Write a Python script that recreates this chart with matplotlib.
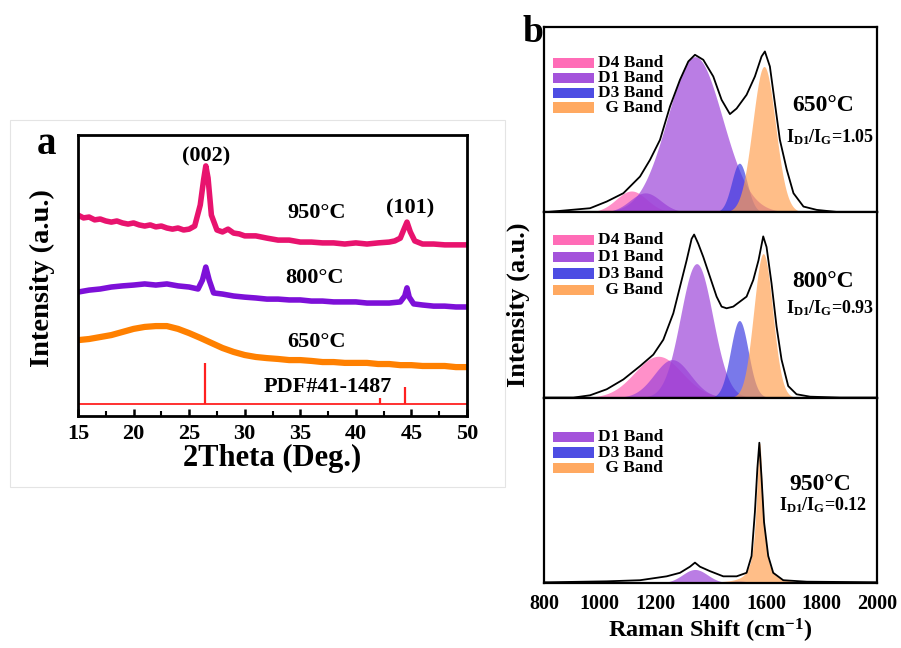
import numpy as np
import matplotlib
matplotlib.use("Agg")
import matplotlib.pyplot as plt
from matplotlib.patches import Rectangle
from matplotlib.ticker import MultipleLocator

plt.rcParams['font.family'] = ['Liberation Serif', 'DejaVu Serif']
plt.rcParams['font.weight'] = 'bold'
plt.rcParams['mathtext.fontset'] = 'custom'
plt.rcParams['mathtext.rm'] = 'Liberation Serif:bold'
plt.rcParams['mathtext.it'] = 'Liberation Serif:bold'
plt.rcParams['mathtext.bf'] = 'Liberation Serif:bold'

# ---------------- Panel a: XRD data ----------------
xrd_950_x = [15, 15.5, 16, 16.5, 17, 17.5, 18, 18.5, 19, 19.5, 20, 20.5, 21, 21.5, 22, 22.5,
             23, 23.5, 24, 24.5, 25, 25.5, 26, 26.3, 26.5, 26.7, 27, 27.5, 28, 28.5, 29, 29.5,
             30, 31, 32, 33, 34, 35, 36, 37, 38, 39, 40, 41, 42, 43, 43.5, 44, 44.3, 44.6,
             44.9, 45.3, 46, 47, 48, 49, 50]
xrd_950_y = [71.5, 70.5, 70.8, 69.8, 70.1, 69.4, 69.0, 69.4, 68.7, 68.3, 68.7, 68.0, 67.6, 68.0,
             67.3, 67.6, 66.9, 66.5, 66.9, 66.2, 66.5, 67.6, 75.1, 84.0, 89.0, 84.7, 71.5, 66.2,
             65.5, 66.5, 65.1, 64.8, 64.1, 64.1, 63.3, 62.6, 62.6, 61.9, 61.9, 61.6, 61.6, 61.2,
             61.6, 61.2, 61.6, 61.9, 62.3, 63.3, 66.2, 69.0, 65.5, 62.3, 61.2, 61.2, 60.9, 60.9, 60.9]

xrd_800_x = [15, 16, 17, 18, 19, 20, 21, 22, 23, 24, 25, 25.8, 26.2, 26.5, 26.8, 27.2, 28, 29,
             30, 31, 32, 33, 34, 35, 36, 37, 38, 39, 40, 41, 42, 43, 44, 44.4, 44.6, 44.8, 45.2,
             46, 47, 48, 49, 50]
xrd_800_y = [44.1, 44.8, 45.2, 45.9, 46.3, 46.6, 47.0, 46.6, 47.0, 46.3, 45.9, 45.2, 48.4, 53.0,
             48.4, 43.8, 43.4, 42.7, 42.3, 42.0, 41.6, 41.6, 41.3, 41.3, 40.9, 40.9, 40.6, 40.6,
             40.6, 40.2, 40.2, 40.2, 40.6, 42.7, 45.6, 42.3, 39.9, 39.5, 39.1, 39.1, 38.8, 38.8]

xrd_650_x = [15, 16, 17, 18, 19, 20, 21, 22, 23, 24, 25, 26, 27, 28, 29, 30, 31, 32, 33, 34, 35,
             36, 37, 38, 39, 40, 41, 42, 43, 44, 45, 46, 47, 48, 49, 50]
xrd_650_y = [27.0, 27.4, 28.1, 28.8, 29.9, 31.0, 31.7, 32.0, 32.0, 31.0, 29.5, 27.8, 26.0, 24.2,
             22.8, 21.7, 21.0, 20.6, 20.3, 19.9, 19.9, 19.6, 19.2, 19.2, 18.9, 18.9, 18.9, 18.5,
             18.5, 18.1, 18.1, 17.8, 17.8, 17.8, 17.4, 17.4]

pdf_pos = [26.4, 42.2, 44.4]
pdf_top = [18.9, 6.4, 10.3]
pdf_base = 4.3

# ---------------- Panel b: Raman data ----------------
raman_650_x = [800, 966, 1026, 1086, 1146, 1182, 1218, 1254, 1290, 1320, 1344, 1374, 1410, 1440,
               1470, 1494, 1530, 1560, 1584, 1596, 1614, 1632, 1650, 1675, 1699, 1735, 1783,
               1867, 2000]
raman_650_y = [0.0, 0.022, 0.058, 0.103, 0.193, 0.283, 0.391, 0.571, 0.715, 0.814, 0.850, 0.823,
               0.733, 0.607, 0.530, 0.560, 0.634, 0.733, 0.841, 0.868, 0.787, 0.589, 0.391,
               0.229, 0.103, 0.031, 0.013, 0.0, 0.0]

raman_800_x = [800, 906, 966, 1026, 1086, 1146, 1194, 1230, 1266, 1290, 1314, 1332, 1341, 1356,
               1374, 1398, 1422, 1440, 1458, 1482, 1506, 1530, 1554, 1573, 1590, 1602, 1620,
               1638, 1656, 1680, 1710, 1759, 1867, 2000]
raman_800_y = [0.0, 0.0, 0.0125, 0.045, 0.098, 0.17, 0.232, 0.3125, 0.455, 0.598, 0.741, 0.857,
               0.88, 0.83, 0.759, 0.652, 0.545, 0.491, 0.482, 0.491, 0.518, 0.545, 0.634, 0.741,
               0.87, 0.8125, 0.616, 0.384, 0.205, 0.0625, 0.018, 0.005, 0.0, 0.0]

raman_950_x = [800, 822, 1026, 1146, 1242, 1290, 1326, 1344, 1362, 1398, 1446, 1494, 1530, 1548,
               1560, 1569, 1576, 1584, 1593, 1608, 1626, 1662, 1747, 2000]
raman_950_y = [0.004, 0.004, 0.009, 0.015, 0.036, 0.055, 0.088, 0.11, 0.088, 0.064, 0.036, 0.036,
               0.055, 0.146, 0.383, 0.62, 0.757, 0.566, 0.328, 0.146, 0.055, 0.015, 0.007, 0.004]

# fitted band parameters per sample: centre (cm-1), width (cm-1), height, profile
band_names = ['D4', 'D4b', 'D1', 'D3', 'G']
bands_650 = {'D4': (1115, 55, 0.115, 'g'), 'D4b': (1165, 55, 0.105, 'g'),
             'D1': (1344, 99, 0.84, 'g'), 'D3': (1504, 28, 0.265, 'g'),
             'G': (1593, 41, 0.787, 'g')}
bands_800 = {'D4': (1212, 85, 0.223, 'g'), 'D4b': (1262, 65, 0.205, 'g'),
             'D1': (1350, 58, 0.723, 'g'), 'D3': (1504, 32, 0.416, 'g'),
             'G': (1590, 34, 0.777, 'g')}
bands_950 = {'D1': (1344, 45, 0.073, 'g'), 'D3': (1500, 30, 0.012, 'g'),
             'G': (1577, 14, 0.755, 'l')}

labels_650 = ['D4 Band', 'D1 Band', 'D3 Band', ' G Band']
labels_800 = ['D4 Band', 'D1 Band', 'D3 Band', ' G Band']
labels_950 = ['D1 Band', 'D3 Band', ' G Band']

band_colors = {'D4': '#ff5cb0', 'D4b': '#9a40d8', 'D1': '#9a40d8', 'D3': '#3a3ae0', 'G': '#ffa050'}
legend_colors = {'D4 Band': '#ff5cb0', 'D1 Band': '#9a40d8', 'D3 Band': '#3a3ae0', ' G Band': '#ffa050'}

c950, c800, c650 = '#e8136e', '#7d10d8', '#ff8000'

fig = plt.figure(figsize=(9.01, 6.48), dpi=100)

# faint frame around panel a (as in the source image)
fig.add_artist(Rectangle((10 / 901, 1 - 487 / 648), 495 / 901, 367 / 648,
                         transform=fig.transFigure, fill=False, ec='#e4e4e4', lw=0.8))

# ---------------- Panel a ----------------
axa = fig.add_axes([78 / 901, 1 - 416 / 648, 389 / 901, 281 / 648])
axa.plot(xrd_950_x, xrd_950_y, color=c950, lw=4.0, solid_joinstyle='round')
axa.plot(xrd_800_x, xrd_800_y, color=c800, lw=4.0, solid_joinstyle='round')
axa.plot(xrd_650_x, xrd_650_y, color=c650, lw=4.5, solid_joinstyle='round')
axa.axhline(pdf_base, color='#ff2020', lw=1.3)
axa.vlines(pdf_pos, pdf_base, pdf_top, color='#ff2020', lw=1.6)
axa.set_xlim(15, 50)
axa.set_ylim(0, 100)
axa.set_yticks([])
axa.xaxis.set_major_locator(MultipleLocator(5))
axa.xaxis.set_minor_locator(MultipleLocator(2.5))
axa.tick_params(axis='x', which='major', direction='in', length=5, width=1.8, labelsize=16, pad=6)
axa.tick_params(axis='x', which='minor', direction='in', length=3.5, width=1.5)
for s in axa.spines.values():
    s.set_linewidth(2.0)
for t in axa.get_xticklabels():
    t.set_fontweight('bold')
axa.set_xlabel('2Theta (Deg.)', fontsize=22, fontweight='bold', labelpad=0)
fig.text(42 / 901, 1 - 278 / 648, 'Intensity (a.u.)', rotation=90, ha='center', va='center',
         fontsize=20.5, fontweight='bold')
tk = dict(fontsize=16, fontweight='bold', ha='center', va='center')
axa.text(26.5, 92.2, '(002)', **tk)
axa.text(36.5, 72.2, '950°C', **tk)
axa.text(44.9, 74.0, '(101)', **tk)
axa.text(36.3, 49.1, '800°C', **tk)
axa.text(36.5, 26.3, '650°C', **tk)
axa.text(37.5, 10.3, 'PDF#41-1487', **tk)
fig.text(47 / 901, 1 - 145 / 648, 'a', fontsize=28, fontweight='bold', ha='center', va='center')

# ---------------- Panel b ----------------
left_b, width_b = 544 / 901, 333 / 901
tops = [27, 212.3, 397.7]
hpx = 185.3
wn = np.linspace(800, 2000, 1201)


def profile(x, c, w, h, kind):
    if kind == 'l':
        return h / (1 + ((x - c) / w) ** 2)
    return h * np.exp(-0.5 * ((x - c) / w) ** 2)


samples = [
    (raman_650_x, raman_650_y, bands_650, labels_650, '650°C', r'$I_{D1}/I_{G}$=1.05',
     (0.838, 0.574), (0.859, 0.408), 0.805, 0.080),
    (raman_800_x, raman_800_y, bands_800, labels_800, '800°C', r'$I_{D1}/I_{G}$=0.93',
     (0.838, 0.625), (0.859, 0.482), 0.849, 0.090),
    (raman_950_x, raman_950_y, bands_950, labels_950, '950°C', r'$I_{D1}/I_{G}$=0.12',
     (0.829, 0.529), (0.839, 0.421), 0.789, 0.085),
]

axes_b = []
for i, (sx, sy, bands, labels, temp, ratio, tpos, rpos, ly0, ldy) in enumerate(samples):
    ax = fig.add_axes([left_b, 1 - (tops[i] + hpx) / 648, width_b, hpx / 648])
    axes_b.append(ax)
    for name in band_names:
        if name in bands:
            c, w, h, kind = bands[name]
            ax.fill_between(wn, 0, profile(wn, c, w, h, kind), color=band_colors[name],
                            alpha=0.68, lw=0)
    ax.plot(sx, sy, color='black', lw=1.3)
    ax.set_xlim(800, 2000)
    ax.set_ylim(0, 1)
    ax.set_yticks([])
    for s in ax.spines.values():
        s.set_linewidth(1.6)
    # legend
    for j, lab in enumerate(labels):
        yc = ly0 - j * ldy
        ax.add_patch(Rectangle((0.027, yc - 0.028), 0.123, 0.056, transform=ax.transAxes,
                               color=legend_colors[lab], lw=0, alpha=0.9, clip_on=False))
        ax.text(0.358, yc, lab, transform=ax.transAxes, ha='right', va='center',
                fontsize=12.5, fontweight='bold')
    ax.text(tpos[0], tpos[1], temp, transform=ax.transAxes, ha='center', va='center',
            fontsize=17, fontweight='bold')
    ax.text(rpos[0], rpos[1], ratio, transform=ax.transAxes, ha='center', va='center',
            fontsize=13, fontweight='bold')
    if i < 2:
        ax.set_xticks([])
    else:
        ax.set_xticks(np.arange(800, 2001, 200))
        ax.tick_params(axis='x', direction='in', length=0, labelsize=14.5, pad=8)
        for t in ax.get_xticklabels():
            t.set_fontweight('bold')
        ax.set_xlabel(r'Raman Shift (cm$^{-1}$)', fontsize=17.5, fontweight='bold', labelpad=2)

fig.text(518 / 901, 1 - 305 / 648, 'Intensity (a.u.)', rotation=90, ha='center', va='center',
         fontsize=19, fontweight='bold')
fig.text(533 / 901, 1 - 32 / 648, 'b', fontsize=27, fontweight='bold', ha='center', va='center')

fig.savefig('out.png', dpi=100, facecolor='white')
